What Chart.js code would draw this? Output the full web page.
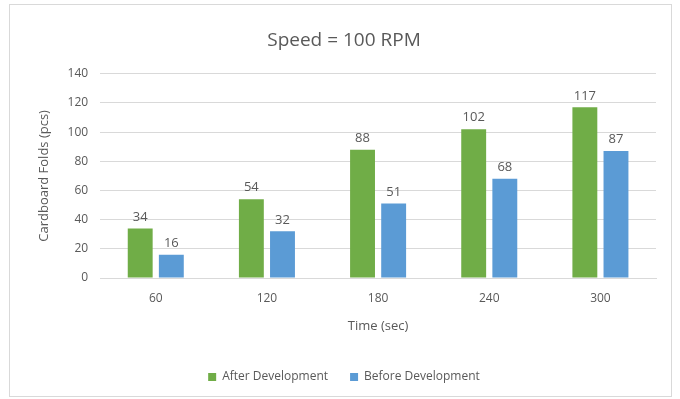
<!DOCTYPE html>
<html>
<head>
<meta charset="utf-8">
<script src="https://cdn.jsdelivr.net/npm/chart.js@4.4.0/dist/chart.umd.min.js"></script>
<style>
  html, body { margin: 0; padding: 0; background: #fff; }
  body { width: 680px; height: 399px; position: relative; overflow: hidden; }
  #box { position: absolute; left: 9px; top: 4px; width: 661px; height: 391px; border: 1px solid #d9d9d9; }
  canvas { display: block; }
</style>
</head>
<body>
<div id="box"><canvas id="chart" width="661" height="391"></canvas></div>
<script>
const categories = ['60', '120', '180', '240', '300']
const afterDev = [34, 54, 88, 102, 117]
const beforeDev = [16, 32, 51, 68, 87]

const GREY = '#595959'
const FONT = "'Open Sans', 'Liberation Sans', sans-serif"

// draws the value above each bar
const valueLabels = {
  id: 'valueLabels',
  afterDatasetsDraw(chart) {
    const ctx = chart.ctx
    ctx.save()
    ctx.font = '13px ' + FONT
    ctx.fillStyle = GREY
    ctx.textAlign = 'center'
    ctx.textBaseline = 'bottom'
    chart.data.datasets.forEach((ds, i) => {
      chart.getDatasetMeta(i).data.forEach((bar, j) => {
        ctx.fillText(ds.data[j], bar.x, bar.y - 5)
      })
    })
    ctx.restore()
  }
}

new Chart(document.getElementById('chart'), {
  type: 'bar',
  data: {
    labels: categories,
    datasets: [
      { label: 'After Development', data: afterDev, backgroundColor: '#70AD47' },
      { label: 'Before Development', data: beforeDev, backgroundColor: '#5B9BD5' }
    ]
  },
  options: {
    responsive: false,
    animation: false,
    categoryPercentage: 0.56,
    barPercentage: 0.8,
    layout: { padding: { left: 22, right: 15, top: 10, bottom: 3 } },
    plugins: {
      title: {
        display: true,
        text: 'Speed = 100 RPM',
        color: GREY,
        font: { family: FONT, size: 19, weight: 'normal' },
        padding: { top: 14, bottom: 22 }
      },
      legend: {
        position: 'bottom',
        labels: {
          color: GREY,
          boxWidth: 8,
          boxHeight: 8,
          padding: 22,
          font: { family: FONT, size: 12 }
        }
      },
      tooltip: { enabled: false }
    },
    scales: {
      x: {
        grid: { display: false },
        border: { color: '#d9d9d9' },
        ticks: { color: GREY, font: { family: FONT, size: 12 }, padding: 5 },
        title: { display: true, text: 'Time (sec)', color: GREY, font: { family: FONT, size: 13 }, padding: { top: 8, bottom: 15 } }
      },
      y: {
        min: 0,
        max: 140,
        ticks: { stepSize: 20, color: GREY, font: { family: FONT, size: 12 }, padding: 12 },
        grid: { color: '#d9d9d9', drawTicks: false },
        border: { display: false },
        title: { display: true, text: 'Cardboard Folds (pcs)', color: GREY, font: { family: FONT, size: 13 }, padding: { bottom: 4 } }
      }
    }
  },
  plugins: [valueLabels]
})
</script>
</body>
</html>
